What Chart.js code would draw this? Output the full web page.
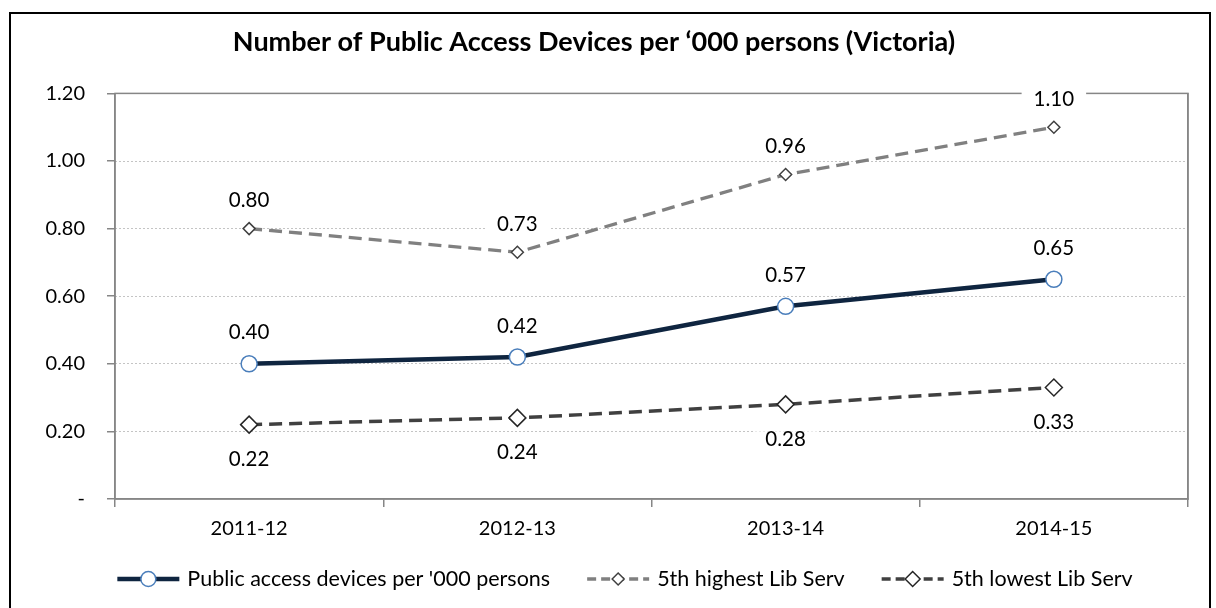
<!DOCTYPE html>
<html>
<head>
<meta charset="utf-8">
<script src="https://cdn.jsdelivr.net/npm/chart.js@4.4.1/dist/chart.umd.min.js"></script>
<style>
  html, body { margin: 0; padding: 0; background: #fff; }
  #wrap { position: relative; width: 1216px; height: 608px; overflow: hidden; }
  #frame { position: absolute; left: 9px; top: 12px; width: 1198px; height: 700px; border: 2px solid #000; }
  #chart { position: absolute; left: 0; top: 0; }
</style>
</head>
<body>
<div id="wrap">
  <div id="frame"></div>
  <canvas id="chart" width="1216" height="608"></canvas>
</div>
<script>
const categories = ['2011-12', '2012-13', '2013-14', '2014-15'];
const publicDevices = [0.40, 0.42, 0.57, 0.65];
const fifthHighest = [0.80, 0.73, 0.96, 1.10];
const fifthLowest = [0.22, 0.24, 0.28, 0.33];
const yTickLabels = ['-', '0.20', '0.40', '0.60', '0.80', '1.00', '1.20'];
const seriesNames = ["Public access devices per '000 persons", '5th highest Lib Serv', '5th lowest Lib Serv'];

const FONT = 'Lato';
const AXIS_GREY = '#868686';

// line + marker sample, same look as the series
function drawSample(g, x, y, w, ds) {
  g.save();
  g.strokeStyle = ds.borderColor;
  g.lineWidth = ds.borderWidth;
  g.setLineDash(ds.legendDash || []);
  g.beginPath();
  g.moveTo(x, y);
  g.lineTo(x + w, y);
  g.stroke();
  g.setLineDash([]);
  const cx = x + w / 2;
  const r = ds.legendRadius;
  g.fillStyle = '#fff';
  g.strokeStyle = ds.pointBorderColor;
  g.lineWidth = 1.5;
  g.beginPath();
  if (ds.pointStyle === 'circle') {
    g.arc(cx, y, r, 0, Math.PI * 2);
  } else {
    g.moveTo(cx - r, y); g.lineTo(cx, y - r); g.lineTo(cx + r, y); g.lineTo(cx, y + r); g.closePath();
  }
  g.fill();
  g.stroke();
  g.restore();
}

const plotBorder = {
  id: 'plotBorder',
  beforeDatasetsDraw(chart) {
    const { ctx, chartArea: a } = chart;
    ctx.save();
    ctx.strokeStyle = AXIS_GREY;
    ctx.lineWidth = 1.5;
    ctx.strokeRect(a.left, a.top, a.right - a.left, a.bottom - a.top);
    ctx.restore();
  }
};

const valueLabels = {
  id: 'valueLabels',
  afterDatasetsDraw(chart) {
    const ctx = chart.ctx;
    ctx.save();
    ctx.font = '20.5px ' + FONT;
    ctx.textAlign = 'center';
    ctx.textBaseline = 'alphabetic';
    chart.data.datasets.forEach((ds, i) => {
      chart.getDatasetMeta(i).data.forEach((pt, j) => {
        const txt = ds.data[j].toFixed(2);
        const cy = pt.y + ds.labelShift;
        const w = ctx.measureText(txt).width;
        ctx.fillStyle = '#fff';
        ctx.fillRect(pt.x - w / 2 - 12, cy - 7, w + 24, 14);
        ctx.fillStyle = '#000';
        ctx.fillText(txt, pt.x, cy + 7.5);
      });
    });
    ctx.restore();
  }
};

// bottom legend, drawn by hand so the item gaps match
const bottomLegend = {
  id: 'bottomLegend',
  afterDraw(chart) {
    const ctx = chart.ctx;
    const sampleW = 62, textGap = 8, itemGap = 37, y = 579;
    ctx.save();
    ctx.font = '21.5px ' + FONT;
    ctx.textBaseline = 'middle';
    ctx.textAlign = 'left';
    const items = chart.data.datasets.map(ds => ({ ds, w: ctx.measureText(ds.label).width }));
    const total = items.reduce((s, it) => s + sampleW + textGap + it.w, 0) + itemGap * (items.length - 1);
    let x = 625 - total / 2;
    items.forEach(it => {
      drawSample(ctx, x, y, sampleW, it.ds);
      x += sampleW + textGap;
      ctx.fillStyle = '#000';
      ctx.fillText(it.ds.label, x, y);
      x += it.w + itemGap;
    });
    ctx.restore();
  }
};

new Chart(document.getElementById('chart'), {
  type: 'line',
  data: {
    labels: categories,
    datasets: [
      {
        label: seriesNames[0],
        data: publicDevices,
        borderColor: '#0f2540',
        borderWidth: 4.5,
        pointStyle: 'circle',
        pointRadius: 8,
        pointBackgroundColor: '#fff',
        pointBorderColor: '#4a7ebb',
        pointBorderWidth: 1.5,
        labelShift: -32,
        legendRadius: 7.5
      },
      {
        label: seriesNames[1],
        data: fifthHighest,
        borderColor: '#808080',
        borderWidth: 3.3,
        borderDash: [13, 7],
        legendDash: [9, 5],
        pointStyle: 'rectRot',
        pointRadius: 6,
        pointBackgroundColor: '#fff',
        pointBorderColor: '#404040',
        pointBorderWidth: 1.5,
        labelShift: -29,
        legendRadius: 6
      },
      {
        label: seriesNames[2],
        data: fifthLowest,
        borderColor: '#404040',
        borderWidth: 3.5,
        borderDash: [13, 7],
        legendDash: [9, 5],
        pointStyle: 'rectRot',
        pointRadius: 8.5,
        pointBackgroundColor: '#fff',
        pointBorderColor: '#262626',
        pointBorderWidth: 1.5,
        labelShift: 34,
        legendRadius: 7.5
      }
    ]
  },
  options: {
    responsive: false,
    animation: false,
    events: [],
    layout: { padding: { left: 0, right: 28, top: 0, bottom: 57 } },
    elements: { line: { tension: 0, fill: false } },
    scales: {
      x: {
        offset: true,
        grid: { offset: true, drawOnChartArea: false, tickLength: 8, color: AXIS_GREY, lineWidth: 1.5 },
        border: { color: AXIS_GREY, width: 1.5 },
        ticks: { color: '#000', font: { family: FONT, size: 20 }, padding: 10, maxRotation: 0 }
      },
      y: {
        min: 0,
        max: 1.2,
        grid: { drawOnChartArea: false, tickLength: 8, color: AXIS_GREY, lineWidth: 1.5 },
        border: { color: AXIS_GREY, width: 1.5 },
        ticks: {
          stepSize: 0.2,
          color: '#000',
          font: { family: FONT, size: 20 },
          padding: 22,
          callback: (v, i) => yTickLabels[i]
        },
        afterFit: s => { s.width = 115; }
      },
      yGrid: {
        type: 'linear',
        position: 'right',
        min: 0,
        max: 1.2,
        ticks: { display: false, stepSize: 0.2 },
        grid: {
          drawTicks: false,
          lineWidth: 1,
          color: c => (c.index === 0 || c.index === 6) ? 'rgba(0,0,0,0)' : '#c4c4c4'
        },
        border: { display: true, color: AXIS_GREY, width: 1.5, dash: [2, 2] },
        afterFit: s => { s.width = 0; }
      }
    },
    plugins: {
      title: {
        display: true,
        text: "Number of Public Access Devices per \u2018000 persons (Victoria)",
        color: '#000',
        font: { family: FONT, size: 27, weight: 'bold' },
        padding: { top: 26, bottom: 35 }
      },
      legend: { display: false },
      tooltip: { enabled: false }
    }
  },
  plugins: [plotBorder, valueLabels, bottomLegend]
});
</script>
</body>
</html>
